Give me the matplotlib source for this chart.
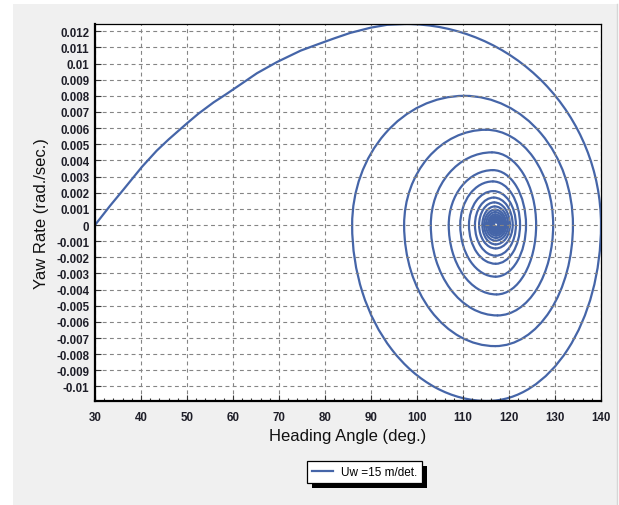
import numpy as np
import matplotlib
matplotlib.use('Agg')
from matplotlib import pyplot as plt
from matplotlib.patches import Arc, Rectangle
from matplotlib.lines import Line2D
from matplotlib.ticker import FuncFormatter
from matplotlib.transforms import IdentityTransform

# first rise of the response, from the initial heading up to the first peak
start_heading = [30.0, 33.3, 36.2, 40.2, 43.4, 46.0, 48.0, 50.0, 52.5, 55.8, 58.5,
                 61.6, 65.2, 69.6, 74.7, 78.5, 81.9, 85.5, 89.9, 93.5, 97.5]
start_yaw = [0.0, 0.0012, 0.0022, 0.0036, 0.0046, 0.0053, 0.0058, 0.0063, 0.0069,
             0.0076, 0.0081, 0.0087, 0.0094, 0.0101, 0.0108, 0.0112, 0.01155,
             0.0119, 0.01222, 0.0124, 0.01245]

# turning points of each swing of the spiral (heading in deg, yaw rate in rad/s)
top_heading = [97.5, 110.3, 115.0, 116.3, 116.5, 116.5, 116.6, 116.7, 116.8, 116.9,
               117.0, 117.0, 117.0, 117.0, 117.0, 117.0, 117.0, 117.0, 117.0, 117.0]
top_yaw = [0.01245, 0.0080, 0.0059, 0.0045, 0.0034, 0.0027, 0.0021, 0.0017, 0.0014, 0.00115,
           0.00095, 0.0008, 0.00066, 0.00055, 0.00046, 0.00038, 0.00031, 0.00026, 0.00021, 0.00017]
right_heading = [140.0, 133.9, 129.6, 125.9, 123.7, 122.4, 121.5, 120.8, 120.2, 119.8,
                 119.4, 119.1, 118.8, 118.6, 118.4, 118.2, 118.0, 117.9, 117.8, 117.7]
bottom_heading = [115.3, 117.0, 117.5, 117.3, 117.1, 117.1, 117.1, 117.1, 117.1, 117.1,
                  117.2, 117.2, 117.2, 117.2, 117.2, 117.2, 117.2, 117.2, 117.2, 117.2]
bottom_yaw = [-0.0109, -0.0075, -0.0056, -0.0043, -0.0032, -0.0024, -0.0019, -0.00145, -0.0012, -0.00097,
              -0.0008, -0.00066, -0.00055, -0.00045, -0.00037, -0.0003, -0.00025, -0.0002, -0.00016, -0.00013]
# where each swing crosses zero yaw rate on the way back up
left_heading = [85.9, 97.2, 103.0, 106.9, 109.4, 111.3, 112.6, 113.5, 114.2, 114.6,
                115.0, 115.4, 115.7, 115.9, 116.1, 116.3, 116.5, 116.6, 116.7, 116.8]

series_label = 'Uw =15 m/det.'
line_color = '#4565a8'
lw = 1.6

fig = plt.figure(figsize=(6.19, 5.06), dpi=100)
fig.patch.set_facecolor('white')
fig.add_artist(Rectangle((13 / 619, 0), 604 / 619, 501 / 506, transform=fig.transFigure,
                         facecolor='#f0f0f0', edgecolor='none', zorder=-10))
fig.add_artist(Line2D([617 / 619, 617 / 619], [0, 501 / 506], transform=fig.transFigure,
                      color='#d6d6d6', lw=1, zorder=-9))

ax = fig.add_axes([95 / 619, 104 / 506, 506 / 619, 377 / 506])
ax.set_facecolor('white')

ax.plot(start_heading, start_yaw, color=line_color, lw=lw,
        solid_capstyle='round', solid_joinstyle='round')


def quarter(cx, half_w, half_h, t1, t2):
    if half_w <= 0 or half_h <= 0:
        return
    ax.add_patch(Arc((cx, 0), 2 * half_w, 2 * half_h, theta1=t1, theta2=t2,
                     color=line_color, lw=lw, capstyle='round'))


for k in range(len(top_yaw)):
    if k > 0:
        quarter(top_heading[k], top_heading[k] - left_heading[k - 1], top_yaw[k], 90, 180)
    quarter(top_heading[k], right_heading[k] - top_heading[k], top_yaw[k], 0, 90)
    quarter(bottom_heading[k], right_heading[k] - bottom_heading[k], -bottom_yaw[k], 270, 360)
    quarter(bottom_heading[k], bottom_heading[k] - left_heading[k], -bottom_yaw[k], 180, 270)

ax.set_xlim(30, 140)
ax.set_ylim(-0.0109, 0.01245)
ax.set_xticks(np.arange(30, 141, 10))
ax.set_xticks(np.arange(30, 141, 2), minor=True)
ax.set_yticks(np.round(np.arange(-10, 13) * 0.001, 3))
ax.yaxis.set_major_formatter(FuncFormatter(lambda v, p: f'{v:g}'))

ax.grid(True, which='major', linestyle=(0, (3.5, 3)), color='#858585', lw=0.8)
ax.tick_params(which='major', direction='in', length=4, width=0.8, labelsize=8.3,
               labelcolor='#1e1e28', color='#333333')
ax.tick_params(which='minor', direction='in', length=2.5, width=0.8, color='#333333')
ax.tick_params(axis='x', pad=7)
ax.tick_params(axis='y', pad=4)
for lab in ax.get_xticklabels() + ax.get_yticklabels():
    lab.set_family('Liberation Sans')
    lab.set_fontweight('bold')

for side in ['left', 'bottom']:
    ax.spines[side].set_linewidth(1.6)
for side in ['top', 'right']:
    ax.spines[side].set_linewidth(0.9)

ax.set_xlabel('Heading Angle (deg.)', fontsize=12, family='Liberation Sans', color='#111111')
ax.set_ylabel('Yaw Rate (rad./sec.)', fontsize=12, family='Liberation Sans', color='#111111')
ax.xaxis.set_label_coords(0.5, -0.072)
ax.yaxis.set_label_coords(-0.09, 0.5)

handle = Line2D([], [], color=line_color, lw=lw)
leg = fig.legend(handles=[handle], labels=[series_label], loc='center',
                 bbox_to_anchor=(364.5 / 619, 1 - 473 / 506),
                 prop={'family': 'Liberation Sans', 'size': 8.5},
                 frameon=True, fancybox=False, framealpha=1, edgecolor='black',
                 borderpad=0.4, handlelength=1.8, handletextpad=0.7)
leg.get_frame().set_linewidth(0.9)

# hard drop shadow behind the legend box
fig.canvas.draw()
bb = leg.get_window_extent()
fig.add_artist(Rectangle((bb.x0 + 5, bb.y0 - 5), bb.width, bb.height,
                         transform=IdentityTransform(), facecolor='black',
                         edgecolor='none', zorder=4.5))

fig.savefig('out.png', dpi=100)
